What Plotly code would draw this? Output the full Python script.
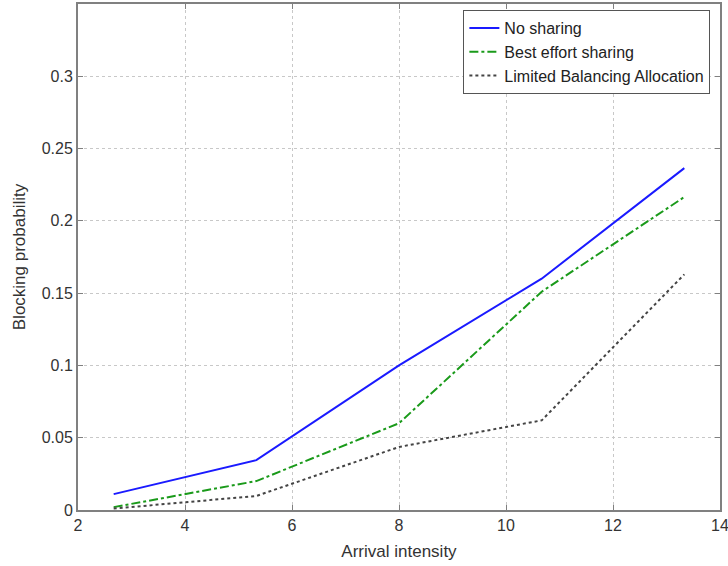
import plotly.graph_objects as go

x_vals = [2.667, 5.333, 8.0, 10.667, 13.333]
no_sharing = [0.011, 0.0345, 0.100, 0.160, 0.2365]
best_effort = [0.002, 0.020, 0.060, 0.151, 0.2165]
limited = [0.001, 0.0097, 0.0436, 0.062, 0.163]

x_ticks = [2, 4, 6, 8, 10, 12, 14]
y_ticks = [0, 0.05, 0.1, 0.15, 0.2, 0.25, 0.3]
y_labels = ["0", "0.05", "0.1", "0.15", "0.2", "0.25", "0.3"]

fig = go.Figure()
fig.add_trace(go.Scatter(x=x_vals, y=no_sharing, mode="lines", name="No sharing",
                         line=dict(color="#1a1aff", width=2, dash="solid")))
fig.add_trace(go.Scatter(x=x_vals, y=best_effort, mode="lines", name="Best effort sharing",
                         line=dict(color="#1a9a1a", width=2, dash="dashdot")))
fig.add_trace(go.Scatter(x=x_vals, y=limited, mode="lines", name="Limited Balancing Allocation",
                         line=dict(color="#444444", width=2, dash="dot")))

axis_common = dict(showline=True, linecolor="#808080", linewidth=2, mirror="ticks",
                   ticks="inside", ticklen=5, tickcolor="#808080", automargin=False,
                   ticklabeloverflow="allow",
                   showgrid=True, gridcolor="#c8c8c8", griddash="dot", gridwidth=1,
                   zeroline=False, tickfont=dict(size=16, color="#333333"))

fig.update_layout(
    width=728, height=566,
    margin=dict(l=78, r=8, t=4, b=56),
    paper_bgcolor="white", plot_bgcolor="white",
    font=dict(family="Liberation Sans, Arial, sans-serif", size=16, color="#333333"),
    xaxis=dict(range=[2, 14], tickvals=x_ticks,
               title=dict(text="Arrival intensity", font=dict(size=17), standoff=12),
               **axis_common),
    yaxis=dict(range=[0, 0.35], tickvals=y_ticks, ticktext=y_labels,
               title=dict(text="Blocking probability", font=dict(size=17), standoff=12),
               **axis_common),
    legend=dict(x=0.985, y=0.988, xanchor="right", yanchor="top",
                bordercolor="#555555", borderwidth=1, bgcolor="white",
                font=dict(size=16, color="#222222"), tracegroupgap=0,
                itemwidth=30),
    showlegend=True,
)

fig.write_html("out.html", config={"displayModeBar": False},
               post_script="document.body.style.margin='0px';document.body.style.padding='0px';")
